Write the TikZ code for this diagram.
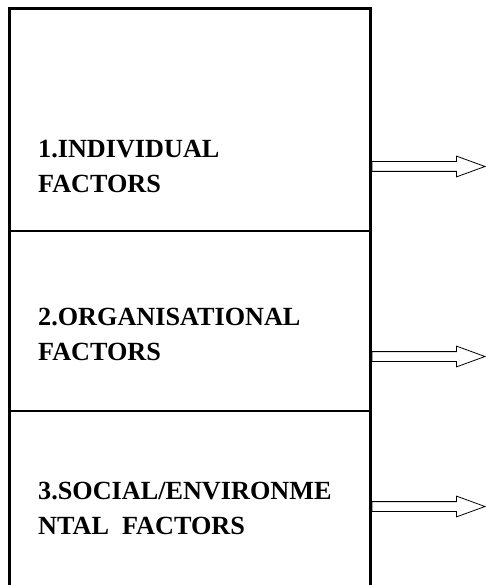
\documentclass[tikz,border=0pt]{standalone}
\usepackage{fontspec}
\setmainfont{Liberation Serif}
\usetikzlibrary{shapes.arrows}
\tikzset{
  factorbox/.style={
    draw,
    line width=2.6pt,
    minimum width=360.7pt,
    inner sep=0pt,
    outer sep=0pt,
    anchor=north west
  },
  factorlabel/.style={
    font=\fontsize{26.2}{35}\selectfont\bfseries,
    align=left,
    anchor=north west,
    inner sep=0pt
  },
  outarrow/.style={
    single arrow,
    draw,
    line width=0.8pt,
    fill=white,
    anchor=west,
    minimum height=113pt,
    minimum width=20pt,
    single arrow head extend=5.5pt,
    single arrow tip angle=40,
    inner xsep=0pt,
    inner ysep=4.5pt,
    outer sep=0pt
  }
}

\begin{document}
\begin{tikzpicture}[x=1pt,y=-1pt]
  \useasboundingbox (0,0) rectangle (486,585);
  \clip (0,0) rectangle (486,585);

  \node[factorbox,minimum height=222.5pt] (indiv) at (9.5,8.5) {};
  \node[factorbox,minimum height=180pt] (organ) at (9.5,231) {};
  \node[factorbox,minimum height=200pt] (social) at (9.5,411) {};

  \node[factorlabel] (indivtext) at (38,140) {1.INDIVIDUAL\\FACTORS};
  \node[factorlabel] (organtext) at (38,308) {2.ORGANISATIONAL\\FACTORS};
  \node[factorlabel] (socialtext) at (38,481.5) {3.SOCIAL/ENVIRONME\\NTAL\ \ FACTORS};

  \node[outarrow] (indivout) at (372,166.5) {};
  \node[outarrow] (organout) at (372,356.5) {};
  \node[outarrow] (socialout) at (372,506.5) {};
\end{tikzpicture}
\end{document}
